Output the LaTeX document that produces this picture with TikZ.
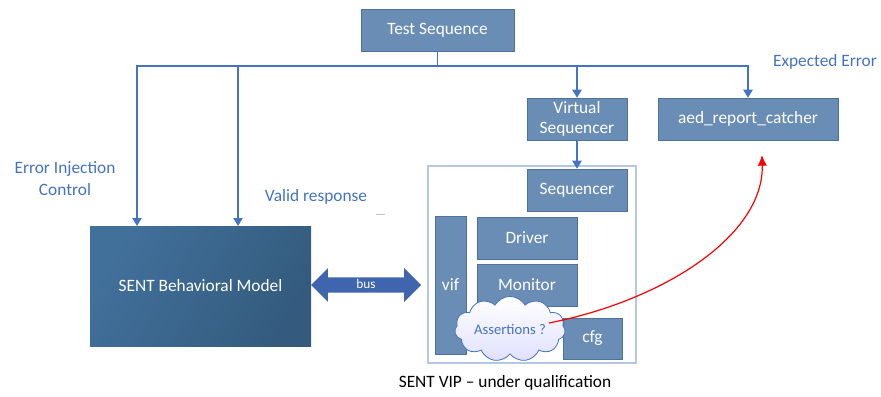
\documentclass[tikz,border=0pt]{standalone}
\usepackage{fontspec}
\setmainfont{Carlito}
\usetikzlibrary{arrows.meta,shapes.symbols,shapes.arrows}
\definecolor{boxfill}{HTML}{6A8DB5}
\definecolor{boxline}{HTML}{4D7299}
\definecolor{linkblue}{HTML}{4472C4}
\definecolor{sbmtop}{HTML}{41709B}
\definecolor{sbmbot}{HTML}{345B7E}
\definecolor{vipline}{HTML}{B4C7E7}
\definecolor{busfill}{HTML}{3E65AE}
\begin{document}
\begin{tikzpicture}[x=0.75pt, y=-0.75pt,
  box/.style={draw=boxline, fill=boxfill, text=white, align=center, inner sep=1pt,
    font=\fontsize{13}{15.5}\selectfont},
  lbl/.style={text=linkblue, align=center, font=\fontsize{13}{16.5}\selectfont},
  link/.style={draw=linkblue, line width=1pt},
  flow/.style={link, -{Triangle[width=7pt,length=6pt]}}]

\useasboundingbox (0,0) rectangle (881,396);

% Top level
\node[box, minimum width=114.75pt, minimum height=31.5pt] (ts) at (437.5,30) {Test Sequence};
\node[box, minimum width=75pt, minimum height=31.5pt] (vs) at (577,119) {Virtual\\Sequencer};
\node[box, minimum width=135pt, minimum height=31.5pt] (aed) at (748,119) {aed\_report\_catcher};

% Behavioral model and bus
\node[draw=none, left color=sbmtop, right color=sbmbot, shading angle=60, text=white,
  minimum width=165.75pt, minimum height=90pt, font=\fontsize{13}{15.5}\selectfont]
  (sbm) at (200.5,286) {SENT Behavioral Model};
\node[double arrow, fill=busfill, text=white, font=\fontsize{10}{12}\selectfont,
  minimum height=82.5pt, inner ysep=1.5pt, inner xsep=2pt, double arrow head extend=7pt,
  text height=6.5pt, text depth=1.5pt] (bus) at (366,285) {bus};

% VIP
\node[draw=vipline, fill=white, line width=0.8pt, minimum width=156pt, minimum height=147.75pt]
  (vip) at (532,264.5) {};
\node[box, minimum width=75pt, minimum height=31.5pt] (seq) at (577,190) {Sequencer};
\node[box, minimum width=23.25pt, minimum height=103.5pt] (vif) at (450.5,285) {vif};
\node[box, minimum width=75pt, minimum height=31.5pt] (drv) at (527,238) {Driver};
\node[box, minimum width=75pt, minimum height=31.5pt] (mon) at (527,285) {Monitor};
\node[box, minimum width=44.25pt, minimum height=30.75pt] (cfg) at (592.5,338.5) {cfg};
\node[cloud, cloud puffs=11, cloud puff arc=120, aspect=2, draw=linkblue, line width=0.6pt,
  top color=white, bottom color=blue!12, text=linkblue, inner sep=0pt,
  minimum width=83pt, minimum height=44pt, font=\fontsize{11}{13}\selectfont]
  (cloud) at (510,329) {Assertions ?};

% Labels
\node[lbl] (eic) at (65,179) {Error Injection\\Control};
\node[lbl] (valid) at (316,197) {Valid response};
\node[lbl] (expect) at (825,62) {Expected Error};
\node[font=\fontsize{13}{15.5}\selectfont] (caption) at (505,383) {SENT VIP -- under qualification};
\draw[gray!45, line width=0.6pt] (376,214) -- (385,214);

% Connections
\coordinate (split) at (437.5,66);
\coordinate (inj) at (137,226);
\coordinate (val) at (238,226);
\draw[link] (ts) -- (split);
\draw[flow] (split) -| (inj);
\draw[flow] (split) -| (val);
\draw[flow] (split) -| (vs);
\draw[flow] (split) -| (aed);
\draw[flow] (vs) -- (seq);

% Assertions to catcher
\coordinate (astart) at (549,323);
\coordinate (acatch) at (762,155);
\draw[red, line width=0.9pt, -{Latex[width=7pt,length=8pt]}]
  (astart) .. controls (665,300) and (764,235) .. (acatch);
\end{tikzpicture}
\end{document}
